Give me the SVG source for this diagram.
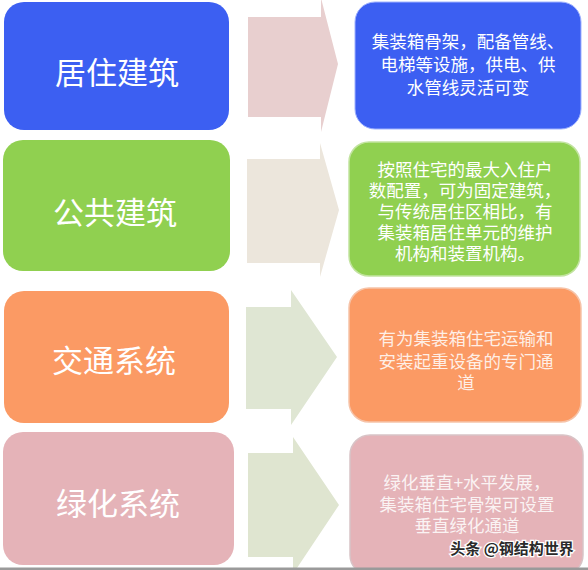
<svg xmlns="http://www.w3.org/2000/svg" width="588" height="570" viewBox="0 0 588 570">
<style>
.lbl{font-family:"Noto Sans CJK SC","Noto Sans",sans-serif;font-size:31px;fill:#ffffff;text-anchor:middle}
.desc{font-family:"Noto Sans CJK SC","Noto Sans",sans-serif;font-size:17.5px;fill:#ffffff;text-anchor:middle}
.wm{font-family:"Noto Sans CJK SC","Noto Sans",sans-serif;font-size:15px;fill:#2a2a2a;stroke:#ffffff;stroke-width:2.5px;paint-order:stroke;font-weight:bold}
</style>
<rect x="0" y="0" width="588" height="570" fill="#ffffff"/>
<g id="connectors">
<polygon points="248,17 321,17 321,-2 338,64 321,132 321,117 248,117" fill="#e8cfcf"/>
<polygon points="247,159 320,159 320,143 339,210 320,277 320,263 247,263" fill="#ece6dc"/>
<polygon points="246,307 291,307 291,290 337,357 291,425 291,409 246,409" fill="#dfe6d3"/>
<polygon points="248,453 293,453 293,437 339,505 293,574 293,557 248,557" fill="#dfe5d0"/>
</g>
<g id="n1">
<rect x="4" y="2" width="225" height="128" rx="20" fill="#3c5ff2"/>
<text class="lbl" x="117" y="84">居住建筑</text>
</g>
<g id="d1">
<rect x="355" y="2" width="226" height="127" rx="20" fill="#3c5ff2" stroke="#9fb2ff" stroke-width="1"/>
<text class="desc" x="468" y="48"><tspan x="468" y="48">集装箱骨架，配备管线、</tspan><tspan x="468" y="71">电梯等设施，供电、供</tspan><tspan x="468" y="94">水管线灵活可变</tspan></text>
</g>
<g id="n2">
<rect x="3" y="140" width="227" height="131" rx="20" fill="#90d050"/>
<text class="lbl" x="115" y="224">公共建筑</text>
</g>
<g id="d2">
<rect x="349" y="142" width="231" height="134" rx="20" fill="#90d050" stroke="#c2e3a0" stroke-width="1.5"/>
<text class="desc" x="465" y="176"><tspan x="465" y="176">按照住宅的最大入住户</tspan><tspan x="465" y="197">数配置，可为固定建筑，</tspan><tspan x="465" y="218">与传统居住区相比，有</tspan><tspan x="465" y="239">集装箱居住单元的维护</tspan><tspan x="465" y="260">机构和装置机构。</tspan></text>
</g>
<g id="n3">
<rect x="4" y="291" width="225" height="132" rx="20" fill="#fb9a64"/>
<text class="lbl" x="114" y="372">交通系统</text>
</g>
<g id="d3">
<rect x="349" y="288" width="232" height="134" rx="20" fill="#fb9a64" stroke="#f6c3a8" stroke-width="1.5"/>
<text class="desc" x="466" y="345" fill-opacity="0.85"><tspan x="466" y="345">有为集装箱住宅运输和</tspan><tspan x="466" y="368">安装起重设备的专门通</tspan><tspan x="466" y="389">道</tspan></text>
</g>
<g id="n4">
<rect x="3" y="432" width="231" height="133" rx="20" fill="#e5b3b8"/>
<text class="lbl" x="118" y="515">绿化系统</text>
</g>
<g id="d4">
<rect x="350" y="435" width="233" height="140" rx="20" fill="#e5b3b8" stroke="#d8c3c6" stroke-width="1.5"/>
<text class="desc" x="467" y="489" fill-opacity="0.85"><tspan x="467" y="489">绿化垂直+水平发展，</tspan><tspan x="467" y="511">集装箱住宅骨架可设置</tspan><tspan x="467" y="532">垂直绿化通道</tspan></text>
</g>
<text class="wm" x="512" y="554" text-anchor="middle">头条 @钢结构世界</text>
<rect x="0" y="567.5" width="588" height="2.5" fill="#9a9a9a"/>
</svg>
